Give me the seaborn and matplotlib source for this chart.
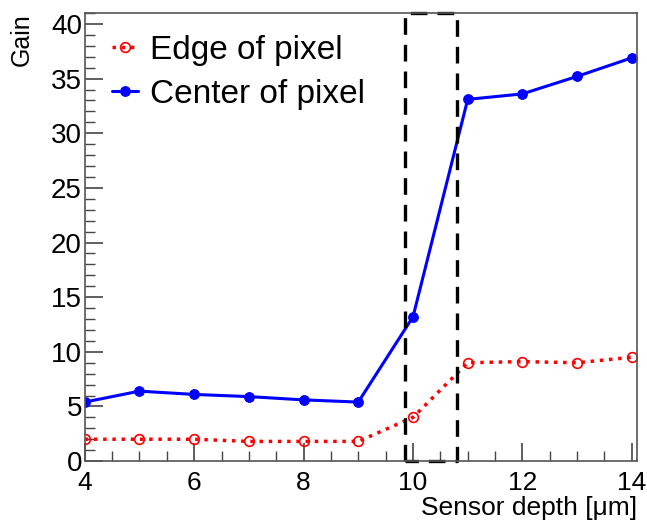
import matplotlib
matplotlib.use("Agg")
import matplotlib.pyplot as plt
import seaborn as sns
from matplotlib.ticker import MultipleLocator

depth = [4, 5, 6, 7, 8, 9, 10, 11, 12, 13, 14]
gain_edge = [2.0, 2.0, 2.0, 1.8, 1.8, 1.8, 4.0, 9.0, 9.1, 9.0, 9.5]
gain_center = [5.4, 6.4, 6.1, 5.9, 5.6, 5.4, 13.2, 33.1, 33.6, 35.2, 36.9]
box_x = [9.85, 10.8]

sns.set_style("white")
plt.rcParams['font.family'] = ['Liberation Sans', 'DejaVu Sans']
plt.rcParams['text.color'] = 'black'
plt.rcParams['axes.labelcolor'] = 'black'

fig = plt.figure(figsize=(6.47, 5.21), dpi=100)
ax = fig.add_axes([0.131, 0.115, 0.854, 0.86])

sns.lineplot(x=depth, y=gain_edge, ax=ax, color='red', linestyle=':', linewidth=2.5,
             marker='o', markersize=7, markerfacecolor='none', markeredgecolor='red',
             markeredgewidth=1.2, label='Edge of pixel')
sns.lineplot(x=depth, y=gain_center, ax=ax, color='blue', linestyle='-', linewidth=2.2,
             marker='o', markersize=7, markeredgecolor='blue', label='Center of pixel')

ylo, yhi = 0, 41.0
ax.plot([box_x[0], box_x[0], box_x[1], box_x[1], box_x[0]],
        [ylo, yhi, yhi, ylo, ylo], color='black', linestyle=(0, (5, 3)),
        linewidth=2.4, clip_on=False)

ax.set_xlim(4, 14.1)
ax.set_ylim(ylo, yhi)
ax.xaxis.set_major_locator(MultipleLocator(2))
ax.xaxis.set_minor_locator(MultipleLocator(0.5))
ax.yaxis.set_major_locator(MultipleLocator(5))
ax.yaxis.set_minor_locator(MultipleLocator(1))
ax.tick_params(which='both', direction='in', top=False, right=False,
               left=True, bottom=True, colors='#444444', labelcolor='black')
ax.tick_params(which='major', length=13, width=1.2)
ax.tick_params(which='minor', length=7, width=1.0)
ax.tick_params(axis='y', which='major', labelsize=20, pad=2)
ax.tick_params(axis='x', which='major', labelsize=19, pad=7)
for s in ax.spines.values():
    s.set_color('#555555')
    s.set_linewidth(1.2)

ax.set_xlabel('Sensor depth [μm]', fontsize=19, loc='right', color='black')
ax.set_ylabel('Gain', fontsize=18, loc='top', color='black')
ax.xaxis.set_label_coords(1.0, -0.078)
ax.yaxis.set_label_coords(-0.092, 1.0)

ax.legend(loc='upper left', bbox_to_anchor=(0.049, 0.952), frameon=False,
          fontsize=24, borderpad=0, borderaxespad=0, handlelength=0.8,
          handletextpad=0.36, labelspacing=0.39, labelcolor='black')

plt.savefig('out.png', dpi=100)
plt.close()
